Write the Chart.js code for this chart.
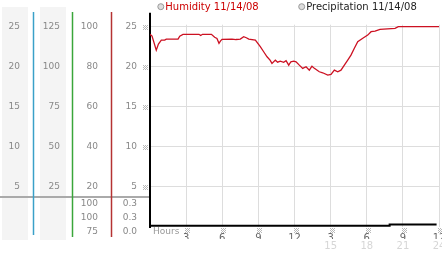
<!DOCTYPE html>
<html>
<head>
    <title>Humidity 11/14/08</title>
    <style>
        body {
            margin: 0;
            background: #fff;
        }
    </style>
</head>
<body>
    <canvas id="weatherChart" width="442" height="253"></canvas>

    <script src="https://cdn.jsdelivr.net/npm/chart.js"></script>
    <script>
        // humidity readings (hours after midnight, percent)
        const hours = [0, 0.17, 0.52, 0.7, 0.94, 1.22, 1.35, 2.33, 2.47, 2.74, 4.07, 4.21, 4.36, 5.1, 5.37, 5.56, 5.73, 5.86, 5.98,
            6.81, 7.14, 7.5, 7.78, 8.0, 8.2, 8.75, 9.16, 9.44, 9.72, 9.97, 10.13, 10.41, 10.6, 10.82, 11.1, 11.3, 11.52, 11.7, 11.94,
            12.13, 12.4, 12.68, 12.96, 13.23, 13.45, 13.65, 14.06, 14.34, 14.76, 15.03, 15.31, 15.59, 15.86, 16.14, 16.42, 16.69,
            16.97, 17.25, 17.67, 18.08, 18.36, 18.69, 19.1, 20.35, 20.62, 24];
        const humidity = [96.2, 95.3, 88.3, 91.3, 93.3, 93.3, 93.8, 93.8, 95.3, 96.2, 96.2, 95.6, 96.2, 96.2, 94.7, 94.1, 91.7, 92.9, 93.7,
            93.8, 93.6, 93.8, 95.0, 94.5, 93.8, 93.3, 90.0, 87.5, 85.0, 83.3, 81.7, 83.3, 82.3, 82.8, 82.2, 83.0, 80.8, 82.5, 82.8,
            82.5, 80.8, 79.2, 80.0, 78.3, 80.3, 79.2, 77.5, 77.0, 75.8, 76.2, 78.3, 77.5, 78.3, 80.8, 83.3, 85.8,
            89.2, 92.5, 94.2, 95.8, 97.5, 97.8, 98.7, 99.2, 100, 100];

        // precipitation trace
        const precipHours = [0, 19.85, 19.9, 23.8];
        const precip = [0.17, 0.17, 0.3, 0.3];

        const legendLabels = ['Humidity 11/14/08', 'Precipitation 11/14/08'];
        const humidityStats = ['100', '100', '75'];
        const precipStats = ['0.3', '0.3', '0.0'];

        Chart.defaults.font.family = "'DejaVu Sans', Verdana, sans-serif";

        // only keep the round ticks, no zero and no bound
        function keepSteps(step) {
            return scale => {
                scale.ticks = scale.ticks.filter(t => t.value > 0 && Math.abs(t.value / step - Math.round(t.value / step)) < 1e-6);
            };
        }

        function mark(c, x, y) {
            const dots = [[0, 0], [4, 0], [1, 1], [3, 1], [2, 2], [1, 3], [3, 3], [0, 4], [4, 4], [2, 0], [0, 2], [4, 2], [2, 4]];
            c.fillStyle = '#b8b8b8';
            dots.forEach(d => c.fillRect(x + d[0], y + d[1], 1, 1));
        }

        const decor = {
            id: 'decor',
            beforeDraw(chart) {
                const c = chart.ctx;
                c.save();
                c.fillStyle = '#f4f4f4';
                c.fillRect(2, 7, 26, 233);
                c.fillRect(40, 7, 26, 233);
                c.restore();
            },
            afterDraw(chart) {
                const c = chart.ctx;
                const area = chart.chartArea;
                c.save();

                // separator under the scales
                c.strokeStyle = '#aaaaaa';
                c.lineWidth = 2;
                c.beginPath();
                c.moveTo(0, 197);
                c.lineTo(149, 197);
                c.stroke();

                // coloured rules between the scale columns
                [['#3aa0c8', 33.5, 235], ['#3aa63a', 72.5, 237], ['#b53333', 111.5, 237]].forEach(r => {
                    c.strokeStyle = r[0];
                    c.lineWidth = 1.5;
                    c.beginPath();
                    c.moveTo(r[1], 12);
                    c.lineTo(r[1], r[2]);
                    c.stroke();
                });

                // axis line runs a bit above the plot
                c.strokeStyle = '#000';
                c.lineWidth = 2;
                c.beginPath();
                c.moveTo(150, 12.7);
                c.lineTo(150, area.top);
                c.stroke();

                // stats below the separator
                c.font = "9px 'DejaVu Sans'";
                c.fillStyle = '#888';
                c.textAlign = 'right';
                c.textBaseline = 'middle';
                humidityStats.forEach((s, i) => c.fillText(s, 98, 204 + i * 14));
                precipStats.forEach((s, i) => c.fillText(s, 137, 204 + i * 14));

                // little marks beside the y ticks and above the x ticks
                const yD = chart.scales.yD;
                yD.ticks.forEach(t => mark(c, 143, Math.round(yD.getPixelForValue(t.value)) - 2));
                const x = chart.scales.x;
                x.ticks.forEach(t => {
                    if (t.value > 0) mark(c, Math.round(x.getPixelForValue(t.value)) - 1, 228);
                });

                c.textAlign = 'left';
                c.fillStyle = '#999';
                c.fillText('Hours', 153, 232);

                // legend
                const items = [[160.8, legendLabels[0], '#cc0000'], [301.7, legendLabels[1], '#222']];
                c.font = "10px 'DejaVu Sans'";
                items.forEach(it => {
                    c.beginPath();
                    c.arc(it[0], 6.7, 3, 0, Math.PI * 2);
                    c.fillStyle = '#dddddd';
                    c.fill();
                    c.strokeStyle = '#999';
                    c.lineWidth = 1;
                    c.stroke();
                    c.fillStyle = it[2];
                    c.fillText(it[1], it[0] + 4.5, 7.5);
                });
                c.restore();
            }
        };

        const ctx = document.getElementById('weatherChart').getContext('2d');
        const chart = new Chart(ctx, {
            type: 'line',
            data: {
                datasets: [{
                    label: legendLabels[0],
                    data: hours.map((h, i) => ({ x: h, y: humidity[i] })),
                    xAxisID: 'x',
                    yAxisID: 'yC',
                    borderColor: '#cc1122',
                    borderWidth: 1.3,
                    pointRadius: 0,
                    tension: 0,
                }, {
                    label: legendLabels[1],
                    data: precipHours.map((h, i) => ({ x: h, y: precip[i] })),
                    xAxisID: 'x',
                    yAxisID: 'yD',
                    borderColor: '#000',
                    borderWidth: 2,
                    pointRadius: 0,
                    tension: 0,
                    clip: false,
                }],
            },
            options: {
                responsive: false,
                animation: false,
                events: [],
                layout: { padding: { top: 24.7, right: 3, bottom: 0, left: 0 } },
                plugins: {
                    legend: { display: false },
                    tooltip: { enabled: false },
                },
                scales: {
                    x: {
                        type: 'linear',
                        position: 'bottom',
                        min: 0,
                        max: 24,
                        ticks: {
                            stepSize: 3,
                            autoSkip: false,
                            maxRotation: 0,
                            padding: 5,
                            color: '#666',
                            font: { size: 10 },
                            callback: v => v === 0 ? '' : String(v > 12 ? v - 12 : v),
                        },
                        grid: { color: '#dddddd', drawTicks: false },
                        border: { display: false },
                        afterFit: s => { s.height = 12; s.paddingLeft = 0; s.paddingRight = 0; },
                    },
                    x2: {
                        type: 'linear',
                        position: 'bottom',
                        min: 0,
                        max: 24,
                        ticks: {
                            stepSize: 3,
                            autoSkip: false,
                            maxRotation: 0,
                            padding: 1,
                            color: '#d6d6d6',
                            font: { size: 10 },
                            callback: v => v > 12 ? String(v) : '',
                        },
                        grid: { display: false, drawTicks: false },
                        border: { display: false },
                        afterFit: s => { s.height = 14; s.paddingLeft = 0; s.paddingRight = 0; },
                    },
                    yD: {
                        position: 'left',
                        weight: 0,
                        min: 0,
                        max: 25.25,
                        bounds: 'data',
                        ticks: { stepSize: 5, includeBounds: false, padding: 13, color: '#888', font: { size: 9 } },
                        grid: { display: false, drawTicks: false },
                        border: { display: true, color: '#000', width: 2 },
                        afterBuildTicks: keepSteps(5),
                        afterFit: s => { s.width = 39; },
                    },
                    yC: {
                        position: 'left',
                        weight: 1,
                        min: 0,
                        max: 101,
                        bounds: 'data',
                        ticks: { stepSize: 20, includeBounds: false, padding: 13, color: '#888', font: { size: 9 } },
                        grid: { color: '#dddddd', drawTicks: false },
                        border: { display: false },
                        afterBuildTicks: keepSteps(20),
                        afterFit: s => { s.width = 39; },
                    },
                    yB: {
                        position: 'left',
                        weight: 2,
                        min: 0,
                        max: 126.25,
                        bounds: 'data',
                        ticks: { stepSize: 25, includeBounds: false, padding: 12, color: '#888', font: { size: 9 } },
                        grid: { display: false, drawTicks: false },
                        border: { display: false },
                        afterBuildTicks: keepSteps(25),
                        afterFit: s => { s.width = 39; },
                    },
                    yA: {
                        position: 'left',
                        weight: 3,
                        min: 0,
                        max: 25.25,
                        bounds: 'data',
                        ticks: { stepSize: 5, includeBounds: false, padding: 13, color: '#888', font: { size: 9 } },
                        grid: { display: false, drawTicks: false },
                        border: { display: false },
                        afterBuildTicks: keepSteps(5),
                        afterFit: s => { s.width = 33; },
                    },
                },
            },
            plugins: [decor],
        });
    </script>
</body>
</html>
